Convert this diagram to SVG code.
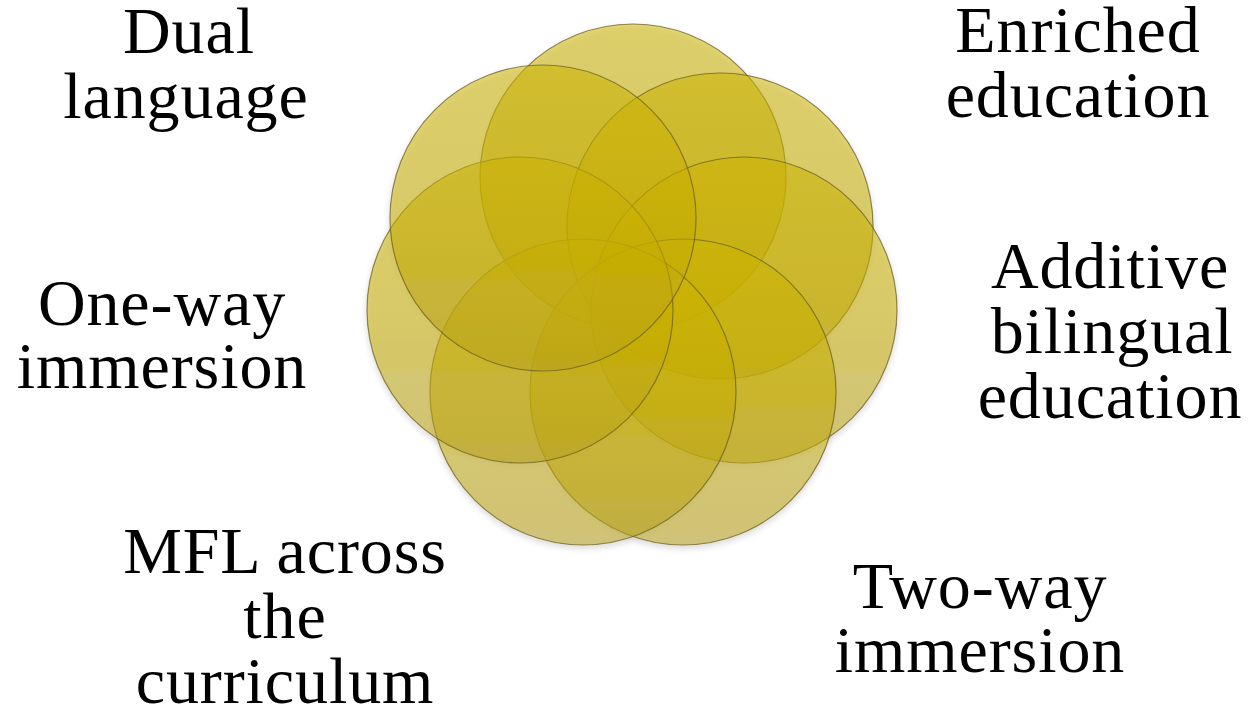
<svg xmlns="http://www.w3.org/2000/svg" width="1251" height="715" viewBox="0 0 1251 715">
  <style>
    .lbl { font-family: "Liberation Serif", "Times New Roman", serif; font-size: 66px; letter-spacing: 0.9px; fill: #000; text-anchor: middle; }
    .petal { fill: url(#petalGrad); fill-opacity: 0.53; stroke: #6e6220; stroke-opacity: 0.75; stroke-width: 1.2; }
  </style>
  <defs>
    <linearGradient id="petalGrad" x1="0" y1="0" x2="0" y2="1">
      <stop offset="0" stop-color="#cdb500"/>
      <stop offset="0.5" stop-color="#c6ad00"/>
      <stop offset="1" stop-color="#b7a01e"/>
    </linearGradient>
    <filter id="shadow" x="-10%" y="-10%" width="120%" height="125%">
      <feGaussianBlur in="SourceAlpha" stdDeviation="3"/>
      <feOffset dx="0" dy="3"/>
      <feComponentTransfer><feFuncA type="linear" slope="0.25"/></feComponentTransfer>
      <feMerge><feMergeNode/><feMergeNode in="SourceGraphic"/></feMerge>
    </filter>
  </defs>
  <rect width="1251" height="715" fill="#ffffff"/>

  <g id="flower" filter="url(#shadow)">
    <g id="c-top"><circle class="petal" cx="633" cy="177" r="153"/></g>
    <g id="c-upper-right"><circle class="petal" cx="720" cy="226" r="153"/></g>
    <g id="c-right"><circle class="petal" cx="744" cy="310" r="153"/></g>
    <g id="c-bottom-right"><circle class="petal" cx="683" cy="392" r="153"/></g>
    <g id="c-bottom-left"><circle class="petal" cx="583" cy="392" r="153"/></g>
    <g id="c-left"><circle class="petal" cx="520" cy="310" r="153"/></g>
    <g id="c-upper-left"><circle class="petal" cx="543" cy="218" r="153"/></g>
  </g>

  <g id="connectors"></g>

  <g id="label-dual">
    <text class="lbl" x="189" y="53">Dual</text>
    <text class="lbl" x="186" y="118">language</text>
  </g>
  <g id="label-enriched">
    <text class="lbl" x="1078" y="52">Enriched</text>
    <text class="lbl" x="1078" y="117">education</text>
  </g>
  <g id="label-additive">
    <text class="lbl" x="1110" y="288">Additive</text>
    <text class="lbl" x="1112" y="353">bilingual</text>
    <text class="lbl" x="1110" y="418">education</text>
  </g>
  <g id="label-oneway">
    <text class="lbl" x="162" y="325">One-way</text>
    <text class="lbl" x="162" y="388">immersion</text>
  </g>
  <g id="label-mfl">
    <text class="lbl" x="285" y="573">MFL across</text>
    <text class="lbl" x="285" y="638">the</text>
    <text class="lbl" x="285" y="703">curriculum</text>
  </g>
  <g id="label-twoway">
    <text class="lbl" x="980" y="608">Two-way</text>
    <text class="lbl" x="980" y="672">immersion</text>
  </g>
</svg>
